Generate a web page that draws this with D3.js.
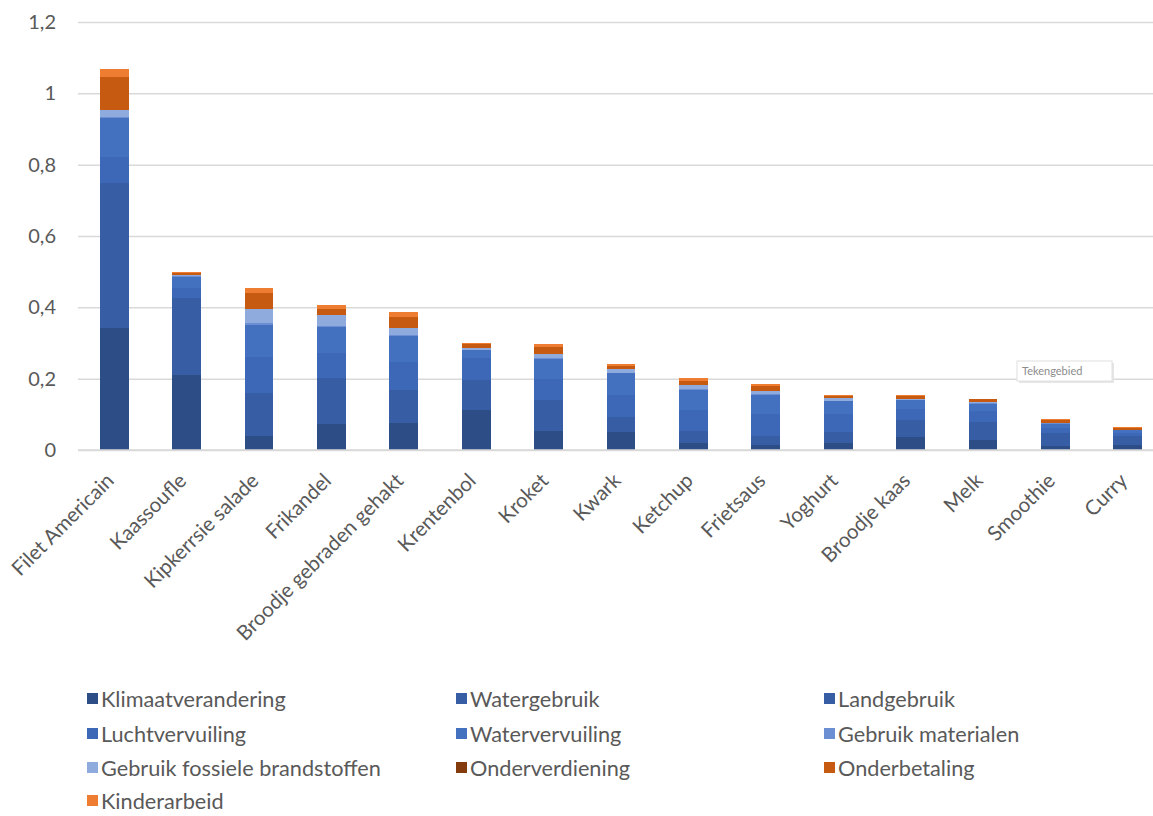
<!DOCTYPE html>
<html>
<head>
<meta charset="utf-8">
<script src="https://cdn.jsdelivr.net/npm/d3@7"></script>
<style>
  html, body { margin: 0; padding: 0; background: #fff; }
  svg { display: block; }
  text { font-family: Lato, "Open Sans", sans-serif; }
</style>
</head>
<body>
<svg id="chart" width="1153" height="816"></svg>
<script>
const categories = ["Filet Americain", "Kaassoufle", "Kipkerrsie salade", "Frikandel", "Broodje gebraden gehakt", "Krentenbol", "Kroket", "Kwark", "Ketchup", "Frietsaus", "Yoghurt", "Broodje kaas", "Melk", "Smoothie", "Curry"];

const seriesNames = ["Klimaatverandering", "Watergebruik", "Landgebruik", "Luchtvervuiling", "Watervervuiling", "Gebruik materialen", "Gebruik fossiele brandstoffen", "Onderverdiening", "Onderbetaling", "Kinderarbeid"];

const klimaatverandering = [0.341, 0.210, 0.039, 0.073, 0.077, 0.112, 0.054, 0.050, 0.019, 0.014, 0.020, 0.037, 0.028, 0.011, 0.014];
const watergebruik       = [0.200, 0.100, 0.060, 0.060, 0.045, 0.014, 0.040, 0.020, 0.016, 0.012, 0.015, 0.022, 0.025, 0.018, 0.013];
const landgebruik        = [0.207, 0.115, 0.062, 0.070, 0.046, 0.070, 0.046, 0.023, 0.018, 0.014, 0.016, 0.025, 0.026, 0.018, 0.013];
const luchtvervuiling    = [0.074, 0.030, 0.100, 0.070, 0.080, 0.061, 0.060, 0.060, 0.060, 0.060, 0.050, 0.030, 0.030, 0.015, 0.008];
const watervervuiling    = [0.108, 0.031, 0.090, 0.072, 0.072, 0.022, 0.056, 0.062, 0.056, 0.054, 0.035, 0.026, 0.021, 0.012, 0.007];
const gebruikMaterialen  = [0.004, 0.002, 0.004, 0.003, 0.003, 0.002, 0.003, 0.002, 0.002, 0.002, 0.002, 0.001, 0.001, 0.001, 0.001];
const fossieleBrandstof  = [0.019, 0.002, 0.040, 0.030, 0.020, 0.006, 0.009, 0.009, 0.011, 0.010, 0.007, 0.002, 0.003, 0.001, 0.001];
const onderverdiening    = [0, 0, 0, 0, 0, 0, 0, 0, 0, 0, 0, 0, 0, 0, 0];
const onderbetaling      = [0.092, 0.006, 0.044, 0.017, 0.031, 0.009, 0.022, 0.009, 0.011, 0.013, 0.007, 0.009, 0.008, 0.009, 0.006];
const kinderarbeid       = [0.022, 0.002, 0.016, 0.011, 0.012, 0.003, 0.006, 0.005, 0.008, 0.005, 0.002, 0.002, 0.002, 0.002, 0.001];

const yTicks = [0, 0.2, 0.4, 0.6, 0.8, 1, 1.2];
const yTickLabels = ["0", "0,2", "0,4", "0,6", "0,8", "1", "1,2"];

const colors = ["#2c4d86", "#375ea5", "#375ea5", "#3d68b7", "#4470c0", "#6b8fd2", "#8faadc", "#843c0c", "#c65a11", "#ee7d31"];

const seriesValues = [klimaatverandering, watergebruik, landgebruik, luchtvervuiling, watervervuiling, gebruikMaterialen, fossieleBrandstof, onderverdiening, onderbetaling, kinderarbeid];

const table = categories.map((c, i) => {
  const row = { category: c };
  seriesNames.forEach((s, j) => row[s] = seriesValues[j][i]);
  return row;
});

const svg = d3.select("#chart");
svg.append("rect").attr("width", 1153).attr("height", 816).attr("fill", "#fff");

const x = d3.scaleBand().domain(categories).range([78, 1164]).paddingInner(0.6).paddingOuter(0.3);
const y = d3.scaleLinear().domain([0, 1.2]).range([450, 22]);

// gridlines + y labels
const yAxis = d3.axisLeft(y).tickValues(yTicks).tickFormat((d, i) => yTickLabels[i]).tickSize(-1080).tickPadding(22);
const gy = svg.append("g").attr("transform", "translate(78,0)").call(yAxis);
gy.select(".domain").remove();
gy.selectAll(".tick line").attr("stroke", "#d9d9d9").attr("stroke-width", 1.5);
gy.selectAll(".tick text").attr("fill", "#595959").style("font-size", "20px").style("font-family", "Lato, sans-serif");

const stacked = d3.stack().keys(seriesNames)(table);

svg.append("g").attr("shape-rendering", "crispEdges")
  .selectAll("g").data(stacked).join("g")
  .attr("fill", (d, i) => colors[i])
  .selectAll("rect").data(d => d.filter(p => p[1] > p[0])).join("rect")
  .attr("x", d => x(d.data.category))
  .attr("width", x.bandwidth())
  .attr("y", d => y(d[1]))
  .attr("height", d => Math.max(0, y(d[0]) - y(d[1])));

// baseline
svg.append("line").attr("x1", 78).attr("x2", 1153).attr("y1", y(0)).attr("y2", y(0)).attr("stroke", "#d9d9d9").attr("stroke-width", 1.5);

// x labels
const xAxis = d3.axisBottom(x).tickSize(0).tickPadding(0);
const gx = svg.append("g").attr("transform", `translate(0,${y(0)})`).call(xAxis);
gx.select(".domain").remove();
gx.selectAll(".tick text")
  .attr("fill", "#595959")
  .style("font-size", "20.5px")
  .style("font-family", "Lato, sans-serif")
  .attr("text-anchor", "end")
  .attr("dy", "0")
  .attr("transform", "translate(1,32) rotate(-45)");

// legend
const legendCols = [87, 456, 824];
const legendRows = [699, 734, 768, 801];
const legend = svg.append("g");
seriesNames.forEach((s, i) => {
  const cx = legendCols[i % 3], cy = legendRows[Math.floor(i / 3)];
  legend.append("rect").attr("x", cx).attr("y", cy - 6).attr("width", 11).attr("height", 11).attr("fill", colors[i]);
  legend.append("text").attr("x", cx + 14).attr("y", cy).attr("dy", "0.35em")
    .attr("fill", "#595959").style("font-size", "21.7px").text(s);
});

// "Tekengebied" tooltip from screenshot
const tip = svg.append("g").attr("transform", "translate(1017,361)");
tip.append("rect").attr("x", 2).attr("y", 2).attr("width", 95).attr("height", 20).attr("fill", "#e6e6e6");
tip.append("rect").attr("width", 95).attr("height", 20).attr("fill", "#fff").attr("stroke", "#e0e0e0");
tip.append("text").attr("x", 5).attr("y", 10).attr("dy", "0.35em").attr("fill", "#8c8c8c").style("font-size", "11px").text("Tekengebied");
</script>
</body>
</html>
